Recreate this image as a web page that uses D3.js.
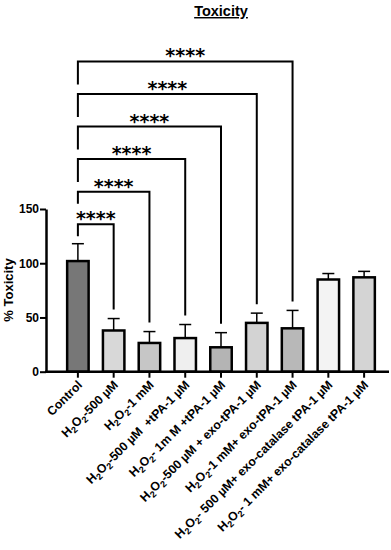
<!DOCTYPE html>
<html>
<head>
<meta charset="utf-8">
<script src="https://cdn.jsdelivr.net/npm/d3@7"></script>
<style>
  body { margin: 0; background: #fff; }
  text { font-family: "Liberation Sans", Arial, sans-serif; font-weight: bold; }
</style>
</head>
<body>
<div id="chart"></div>
<script>
(function(){
  const categories = [
    "Control",
    "H2O2-500 µM",
    "H2O2-1 mM",
    "H2O2-500 µM  +tPA-1 µM",
    "H2O2- 1m M +tPA-1 µM",
    "H2O2-500 µM + exo-tPA-1 µM",
    "H2O2-1 mM+ exo-tPA-1 µM",
    "H2O2- 500 µM+ exo-catalase tPA-1 µM",
    "H2O2- 1 mM+ exo-catalase tPA-1 µM"
  ];
  const means = [102, 38, 26.5, 31, 22.5, 45, 40, 85, 87];
  const errorTops = [118, 49, 37, 43.5, 36, 54, 56.5, 90.5, 92.5];
  const fills = ["#777777", "#d8d8d8", "#c6c6c6", "#efefef", "#b4b4b4", "#d3d3d3", "#b8b8b8", "#f3f3f3", "#d4d4d4"];
  // significance brackets: Control vs these groups
  const comparisons = [1, 2, 3, 4, 5, 6];
  const stars = ["****", "****", "****", "****", "****", "****"];

  const W = 391, H = 550;
  const svg = d3.select("#chart").append("svg")
    .attr("width", W)
    .attr("height", H);

  const x = d3.scaleBand()
    .domain(d3.range(categories.length))
    .range([60, 382])
    .paddingInner(0.4)
    .paddingOuter(0.2);

  const y = d3.scaleLinear()
    .domain([0, 150])
    .range([371.7, 209]);

  const cx = i => x(i) + x.bandwidth() / 2;

  // title
  svg.append("text")
    .attr("x", 221)
    .attr("y", 16)
    .attr("text-anchor", "middle")
    .style("font-size", "14.5px")
    .style("text-decoration", "underline")
    .text("Toxicity");

  // error bars (upper only)
  const err = svg.append("g").attr("stroke", "#000").attr("stroke-width", 1.5);
  categories.forEach((c, i) => {
    err.append("line")
      .attr("x1", cx(i)).attr("x2", cx(i))
      .attr("y1", y(means[i])).attr("y2", y(errorTops[i]));
    err.append("line")
      .attr("x1", cx(i) - 6).attr("x2", cx(i) + 6)
      .attr("y1", y(errorTops[i])).attr("y2", y(errorTops[i]));
  });

  // bars
  svg.append("g")
    .selectAll("rect")
    .data(means)
    .join("rect")
    .attr("x", (d, i) => x(i))
    .attr("y", d => y(d))
    .attr("width", x.bandwidth())
    .attr("height", d => y(0) - y(d))
    .attr("fill", (d, i) => fills[i])
    .attr("stroke", "#000")
    .attr("stroke-width", 2.5);

  // y axis
  const yAxis = svg.append("g")
    .attr("transform", "translate(46,0)")
    .call(d3.axisLeft(y).tickValues([0, 50, 100, 150]).tickSize(6).tickPadding(1).tickSizeOuter(0));
  yAxis.select(".domain").attr("stroke-width", 2.5);
  yAxis.selectAll(".tick line").attr("stroke-width", 2);
  yAxis.selectAll(".tick text").style("font-size", "12px").style("font-family", "Liberation Sans, Arial, sans-serif").style("font-weight", "bold");

  svg.append("text")
    .attr("transform", "translate(13,290) rotate(-90)")
    .attr("text-anchor", "middle")
    .style("font-size", "13px")
    .text("% Toxicity");

  // x axis
  const xAxis = svg.append("g")
    .attr("transform", `translate(0,${y(0)})`)
    .call(d3.axisBottom(x).tickSize(6).tickSizeOuter(0).tickFormat(""));
  xAxis.select(".domain").remove();
  xAxis.selectAll(".tick line").attr("stroke-width", 2);
  svg.append("line")
    .attr("x1", 45).attr("x2", 389)
    .attr("y1", y(0)).attr("y2", y(0))
    .attr("stroke", "#000")
    .attr("stroke-width", 2.5);

  // rotated category labels with H2O2 subscripts
  const labels = svg.append("g");
  categories.forEach((c, i) => {
    const t = labels.append("text")
      .attr("transform", `translate(${cx(i) + 5},${y(0) + 14}) rotate(-45)`)
      .attr("text-anchor", "end")
      .style("white-space", "pre")
      .style("font-size", "12.3px");
    if (c.startsWith("H2O2")) {
      t.append("tspan").text("H");
      t.append("tspan").attr("dy", 3).style("font-size", "9px").text("2");
      t.append("tspan").attr("dy", -3).text("O");
      t.append("tspan").attr("dy", 3).style("font-size", "9px").text("2");
      t.append("tspan").attr("dy", -3).text(c.slice(4));
    } else {
      t.text(c);
    }
  });

  // significance brackets
  const br = svg.append("g");
  comparisons.forEach((j, k) => {
    const ly = y(136 + 30 * k);
    const leftDrop = k < 2 ? 12 : 23;
    const rightEnd = y(errorTops[j]) - 9;
    br.append("path")
      .attr("d", `M${cx(0)},${ly + leftDrop}V${ly}H${cx(j)}V${rightEnd}`)
      .attr("fill", "none")
      .attr("stroke", "#000")
      .attr("stroke-width", 2);
    br.append("text")
      .attr("x", (cx(0) + cx(j)) / 2)
      .attr("y", ly + 1)
      .attr("text-anchor", "middle")
      .style("font-family", "DejaVu Sans, sans-serif")
      .style("font-size", "19px")
      .text(stars[k]);
  });
})();
</script>
</body>
</html>
